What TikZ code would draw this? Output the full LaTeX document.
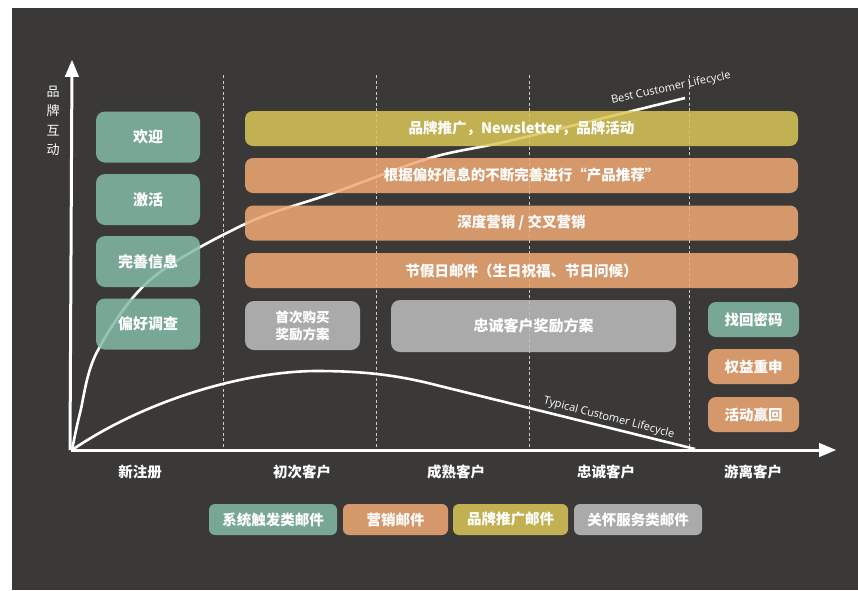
\documentclass[tikz,border=0pt]{standalone}
\usepackage{fontspec}
\setmainfont{Open Sans}
\newfontfamily\cjk{Noto Sans CJK SC}
\usetikzlibrary{arrows,shapes}
\definecolor{bgdark}{HTML}{3A3938}
\definecolor{mailgreen}{HTML}{85BBA7}
\definecolor{mailorange}{HTML}{F0A975}
\definecolor{mailyellow}{HTML}{DAC757}
\definecolor{mailgray}{HTML}{BEBEBE}
\tikzstyle{axis}=[white,line width=3pt,-triangle 45]
\tikzstyle{curve}=[white,line width=2.6pt]
\tikzstyle{stage}=[white!80!black,dash pattern=on 3pt off 2.5pt,line width=.8pt]
\tikzstyle{mail}=[rounded corners=9pt,fill opacity=.85,text opacity=1,text=white,inner sep=0pt,align=center,
	font=\cjk\bfseries\fontsize{14.5}{17}\selectfont]
\tikzstyle{trigger}=[mail,fill=mailgreen]
\tikzstyle{market}=[mail,fill=mailorange]
\tikzstyle{brand}=[mail,fill=mailyellow]
\tikzstyle{care}=[mail,fill=mailgray]
\tikzstyle{stagelabel}=[text=white,font=\cjk\bfseries\fontsize{14.5}{17}\selectfont]
\tikzstyle{curvelabel}=[text=white,font=\fontsize{11}{13}\selectfont,inner sep=1pt]

\begin{document}
\begin{tikzpicture}[x=1pt,y=-1pt]

	\useasboundingbox (0,0) rectangle (858,590);
	\fill[bgdark] (12,8) rectangle (858,590);

	\coordinate (o) at (72,450);
	\coordinate (ytop) at (72,60);
	\coordinate (xend) at (836,450);

	%stages
	\draw[stage] (223,75) -- (223,450);
	\draw[stage] (376,75) -- (376,450);
	\draw[stage] (529,75) -- (529,450);
	\draw[stage] (689,75) -- (689,450);

	%lifecycles
	\draw[curve] plot[smooth,tension=.55] coordinates {(72,450) (80,413) (97,352) (150,280)
		(245,224) (333,193) (430,158) (513,140) (685,98)};
	\draw[curve] (o) .. controls (150,397) and (250,371) .. (317,371)
		.. controls (372,371) and (405,377) .. (440,386) -- (695,449);
	\node[curvelabel,rotate=12] (best) at (671,88) {Best Customer Lifecycle};
	\node[curvelabel,rotate=-14.5] (typical) at (609,418) {Typical Customer Lifecycle};

	%axis
	\draw[axis] (70,450) -- (ytop);
	\draw[axis] (70.5,450) -- (xend);
	\node[text=white,align=center,font=\cjk\fontsize{13}{19.5}\selectfont] (ylabel) at (53,121)
		{品\\牌\\互\\动};

	%mails
	\node[trigger,minimum width=104pt,minimum height=51pt,font=\cjk\bfseries\fontsize{15}{17}\selectfont] (welcome) at (148,137) {欢迎};
	\node[trigger,minimum width=104pt,minimum height=51pt,font=\cjk\bfseries\fontsize{15}{17}\selectfont] (activate) at (148,199.5) {激活};
	\node[trigger,minimum width=104pt,minimum height=51pt,font=\cjk\bfseries\fontsize{15}{17}\selectfont] (profile) at (148,261.5) {完善信息};
	\node[trigger,minimum width=104pt,minimum height=51pt,font=\cjk\bfseries\fontsize{15}{17}\selectfont] (survey) at (148,324) {偏好调查};

	\node[brand,minimum width=553pt,minimum height=35pt,rounded corners=8pt] (newsletter) at (521.5,128.5)
		{品牌推广，Newsletter，品牌活动};
	\node[market,minimum width=553pt,minimum height=35pt,rounded corners=8pt] (recommend) at (521.5,175.5)
		{根据偏好信息的不断完善进行“产品推荐”};
	\node[market,minimum width=553pt,minimum height=35pt,rounded corners=8pt] (cross) at (521.5,223)
		{深度营销 / 交叉营销};
	\node[market,minimum width=553pt,minimum height=35pt,rounded corners=8pt] (holiday) at (521.5,270.5)
		{节假日邮件（生日祝福、节日问候）};

	\node[care,minimum width=115pt,minimum height=49pt,font=\cjk\bfseries\fontsize{13.5}{17}\selectfont]
		(first) at (302.5,325.5) {首次购买\\奖励方案};
	\node[care,minimum width=285pt,minimum height=52pt,font=\cjk\bfseries\fontsize{15}{17}\selectfont] (loyal) at (533.5,326) {忠诚客户奖励方案};

	\node[trigger,minimum width=91pt,minimum height=35pt,rounded corners=8pt] (password) at (753.5,319.5) {找回密码};
	\node[market,minimum width=91pt,minimum height=35pt,rounded corners=8pt] (rights) at (753.5,366.5) {权益重申};
	\node[market,minimum width=91pt,minimum height=35pt,rounded corners=8pt] (winback) at (753.5,414.5) {活动赢回};

	%stage labels
	\node[stagelabel] (new) at (140,472) {新注册};
	\node[stagelabel] (firstbuy) at (302,472) {初次客户};
	\node[stagelabel] (mature) at (456,472) {成熟客户};
	\node[stagelabel] (loyalty) at (606,472) {忠诚客户};
	\node[stagelabel] (lost) at (753,472) {游离客户};

	%legend
	\node[trigger,minimum width=128pt,minimum height=31pt,rounded corners=6pt] (lgtrigger) at (273,519.5) {系统触发类邮件};
	\node[market,minimum width=105pt,minimum height=31pt,rounded corners=6pt] (lgmarket) at (395.5,519.5) {营销邮件};
	\node[brand,minimum width=115pt,minimum height=31pt,rounded corners=6pt] (lgbrand) at (510.5,519.5) {品牌推广邮件};
	\node[care,minimum width=128pt,minimum height=31pt,rounded corners=6pt] (lgcare) at (638,519.5) {关怀服务类邮件};
\end{tikzpicture}
\end{document}
